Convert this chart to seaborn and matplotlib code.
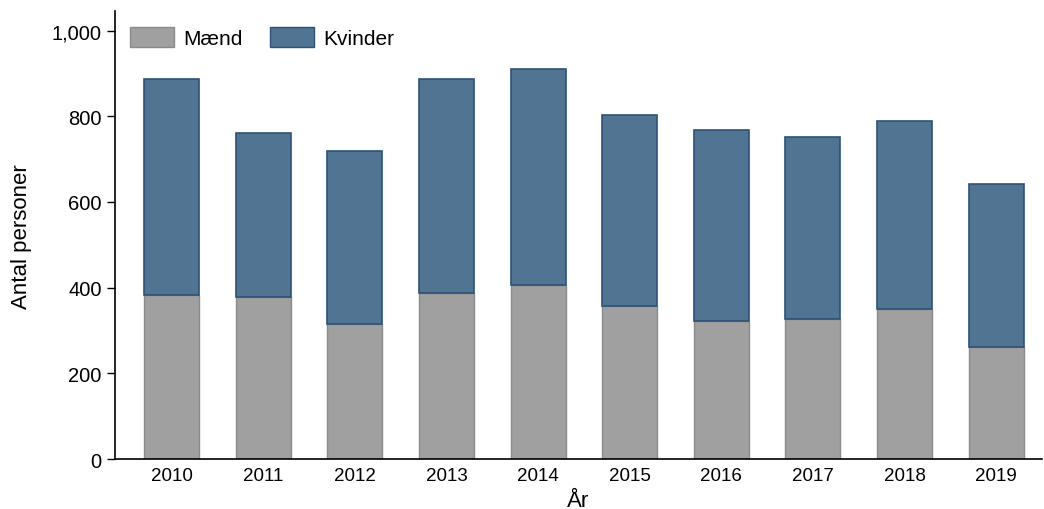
import matplotlib
matplotlib.use("Agg")
import matplotlib.pyplot as plt
import seaborn as sns
import pandas as pd
from matplotlib.patches import Patch

years = ["2010", "2011", "2012", "2013", "2014", "2015", "2016", "2017", "2018", "2019"]
maend = [383, 378, 315, 388, 406, 357, 322, 326, 351, 262]
kvinder = [503, 382, 405, 498, 505, 445, 446, 425, 437, 379]

df = pd.DataFrame({"År": years, "Mænd": maend, "Kvinder": kvinder})

sns.set_style("ticks")
plt.rcParams["font.family"] = ["Liberation Sans", "DejaVu Sans"]
plt.rcParams["text.color"] = "black"
plt.rcParams["axes.labelcolor"] = "black"
plt.rcParams["xtick.color"] = "black"
plt.rcParams["ytick.color"] = "black"

fig = plt.figure(figsize=(10.44, 5.10), dpi=100)
ax = fig.add_axes([0.110, 0.098, 0.888, 0.878])

c_m, e_m = "#a0a0a0", "#8a8a8a"
c_k, e_k = "#527493", "#2d5278"

sns.barplot(data=df, x="År", y="Mænd", color=c_m, edgecolor=e_m, linewidth=1.0,
            width=0.6, saturation=1, ax=ax)
n_before = len(ax.patches)
sns.barplot(data=df, x="År", y="Kvinder", color=c_k, edgecolor=e_k, linewidth=1.2,
            width=0.6, saturation=1, ax=ax)
# stack the women's bars on top of the men's bars
for p, base in zip(ax.patches[n_before:], maend):
    p.set_y(base)

ax.set_ylim(0, 1045)
ax.set_xlim(-0.62, 9.5)
ax.set_yticks([0, 200, 400, 600, 800, 1000])
ax.set_yticklabels(["0", "200", "400", "600", "800", "1,000"], fontsize=14.5)
ax.tick_params(axis="x", labelsize=13.5, length=0, pad=6)
ax.tick_params(axis="y", length=6, width=1, color="black")
ax.set_xlabel("År", fontsize=16, labelpad=4)
ax.set_ylabel("Antal personer", fontsize=16, labelpad=14)
sns.despine(ax=ax)
for s in ["left", "bottom"]:
    ax.spines[s].set_color("black")
    ax.spines[s].set_linewidth(1.2)

handles = [Patch(facecolor=c_m, edgecolor=e_m, label="Mænd"),
           Patch(facecolor=c_k, edgecolor=e_k, label="Kvinder")]
ax.legend(handles=handles, loc="upper left", ncol=2, frameon=False, fontsize=15,
          handlelength=2.1, handleheight=1.1, handletextpad=0.45, columnspacing=1.3,
          bbox_to_anchor=(0.0, 1.0), borderaxespad=0.35)

fig.savefig("out.png", dpi=100)
